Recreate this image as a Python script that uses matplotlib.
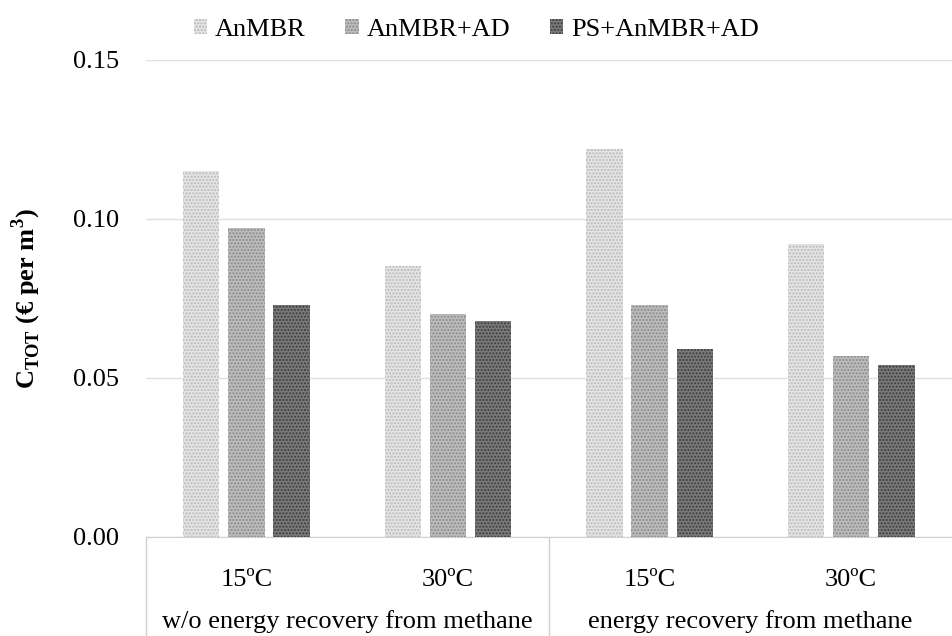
import numpy as np
import matplotlib
matplotlib.use("Agg")
from matplotlib import pyplot as plt
from matplotlib.transforms import blended_transform_factory

plt.rcParams['font.family'] = ['Liberation Serif', 'DejaVu Serif']
plt.rcParams['hatch.linewidth'] = 1.0

# data
temps = ['15ºC', '30ºC', '15ºC', '30ºC']
groups = ['w/o energy recovery from methane', 'energy recovery from methane']
series = ['AnMBR', 'AnMBR+AD', 'PS+AnMBR+AD']
anmbr = [0.115, 0.085, 0.122, 0.092]
anmbr_ad = [0.097, 0.070, 0.073, 0.057]
ps_anmbr_ad = [0.073, 0.068, 0.059, 0.054]
yticks = [0.00, 0.05, 0.10, 0.15]

faces = ['#e4e4e4', '#bcbcbc', '#7a7a7a']
dots = ['#b8b8b8', '#8a8a8a', '#3c3c3c']

fig = plt.figure(figsize=(9.52, 6.36), dpi=100)
ax = fig.add_axes([0.153, 0.156, 0.847, 0.75])

x = np.arange(len(temps))
w = 0.18
step = 0.224
for i, vals in enumerate([anmbr, anmbr_ad, ps_anmbr_ad]):
    ax.bar(x + (i - 1) * step, vals, width=w, facecolor=faces[i], edgecolor=dots[i],
           hatch='.....', linewidth=0, label=series[i], zorder=3)

ax.set_xlim(-0.5, len(temps) - 0.5)
ax.set_ylim(0, 0.15)
ax.set_yticks(yticks)
ax.set_yticklabels(['%.2f' % v for v in yticks], fontsize=19)
ax.tick_params(axis='y', length=0, pad=19)
ax.set_xticks([])
ax.grid(axis='y', color='#e0e0e0', linewidth=1, zorder=0)
for s in ['top', 'right', 'left']:
    ax.spines[s].set_visible(False)
ax.spines['bottom'].set_color('#d0d0d0')

ax.set_ylabel(r'C$_{\mathregular{TOT}}$ (€ per m$^{\mathregular{3}}$)', fontsize=19,
              fontweight='bold', labelpad=22)

# category axis labels
tr = blended_transform_factory(ax.transData, ax.transAxes)
for xi, t in zip(x, temps):
    ax.text(xi, -0.09, t, transform=tr, ha='center', va='center', fontsize=19)
for gi, g in enumerate(groups):
    ax.text(gi * 2 + 0.5, -0.178, g, transform=tr, ha='center', va='center', fontsize=19)
for xb in [-0.5, 1.5]:
    ax.plot([xb, xb], [0, -0.21], transform=tr, color='#d0d0d0', lw=1, clip_on=False)

ax.legend(loc='upper center', bbox_to_anchor=(0.41, 1.135), ncol=3, frameon=False,
          fontsize=19, handlelength=0.5, handleheight=0.5, handletextpad=0.3,
          columnspacing=1.5)

fig.savefig('out.png', dpi=100)
